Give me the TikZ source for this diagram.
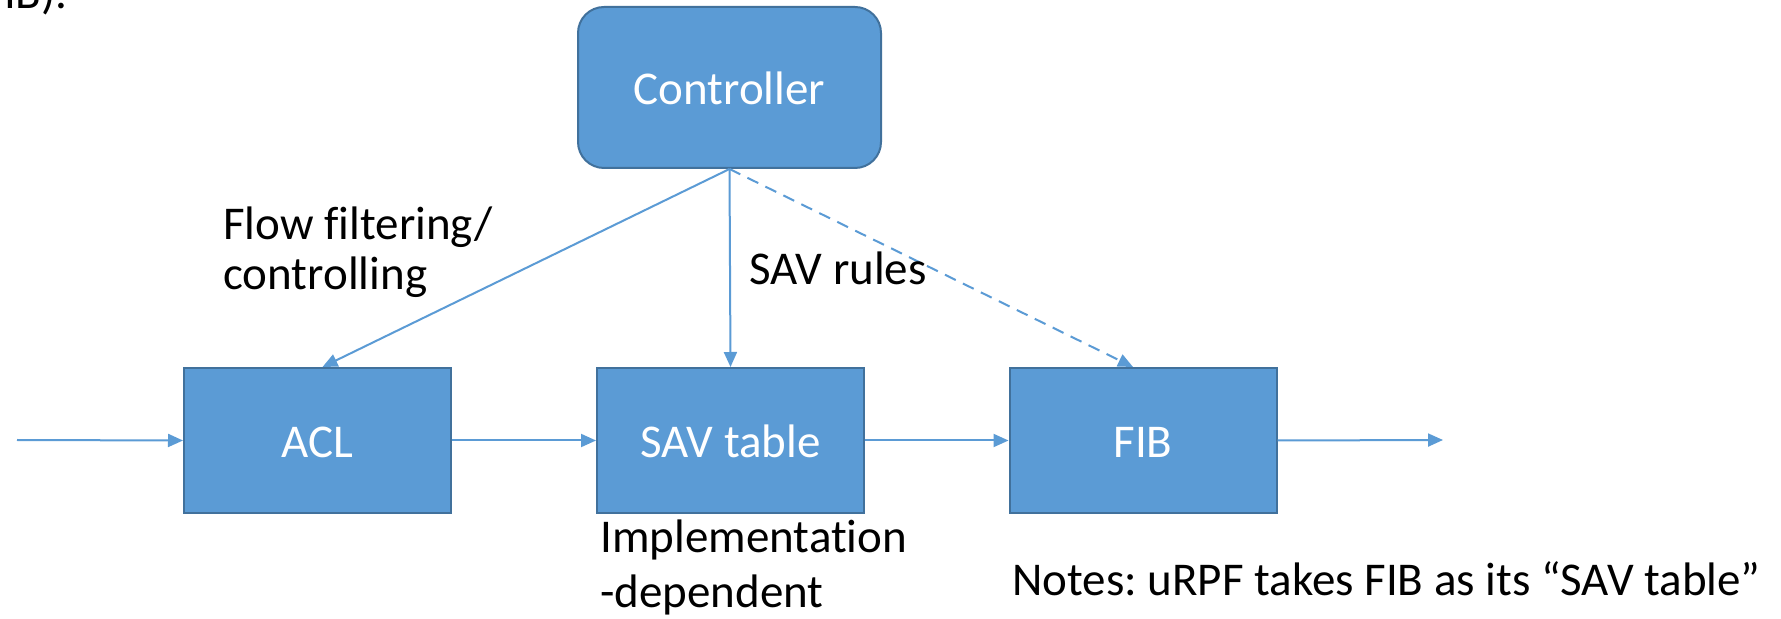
\documentclass[tikz,border=0pt]{standalone}
\usepackage{fontspec}
\setmainfont[Ligatures=NoCommon]{Carlito}
\usetikzlibrary{arrows.meta}
\definecolor{boxfill}{HTML}{5B9BD5}
\definecolor{boxedge}{HTML}{41719C}
\definecolor{linkcol}{HTML}{5B9BD5}
\tikzset{
  base/.style={font=\fontsize{23.5}{27}\selectfont},
  block/.style={base, draw=boxedge, fill=boxfill, line width=1pt, text=white,
    minimum width=133.5pt, minimum height=72.5pt, inner sep=0pt,
    text height=17pt, text depth=0pt},
  ctrlbox/.style={block, rounded corners=13pt, minimum width=151.5pt, minimum height=80.5pt},
  link/.style={draw=linkcol, line width=1pt, -{Triangle[length=7.5pt,width=6.5pt]}},
  dashlink/.style={link, dash pattern=on 6pt off 4pt},
  label/.style={base, text=black, inner sep=0pt, align=left}
}
\begin{document}
\frenchspacing
\begin{tikzpicture}[x=0.5pt,y=-0.5pt]
  \useasboundingbox (0,0) rectangle (1781,619);
  \clip (0,0) rectangle (1781,619);
  \fill[white] (0,0) rectangle (1781,619);

  % tail of a sentence above the figure
  \node[label, anchor=base east] (tail) at (68,9) {IB).};

  % blocks
  \node[ctrlbox] (ctrl) at (729.5,87.5) {Controller};
  \node[block] (acl) at (317.5,440.5) {ACL};
  \node[block] (sav) at (730.5,440.5) {SAV table};
  \node[block] (fib) at (1143,440.5) {FIB};

  % packet path
  \coordinate (in) at (17,440);
  \coordinate (out) at (1443,440);
  \draw[link] (in) -- (acl.west);
  \draw[link] (acl.east) -- (sav.west);
  \draw[link] (sav.east) -- (fib.west);
  \draw[link] (fib.east) -- (out);

  % control links
  \draw[link] (ctrl.south) -- ([xshift=2.5pt]acl.north);
  \draw[link] (ctrl.south) -- (sav.north);
  \draw[dashlink] (ctrl.south) -- ([xshift=-5pt]fib.north);

  % annotations
  \node[label, anchor=base west] (flow) at (223,240) {Flow filtering/};
  \node[label, anchor=base west] (flow2) at (223,290) {controlling};
  \node[label, anchor=base west] (rules) at (749,285) {SAV rules};
  \node[label, anchor=base west] (impl) at (600,552) {Implementation};
  \node[label, anchor=base west] (impl2) at (600,607) {-dependent};
  \node[label, anchor=base west] (notes) at (1012,595) {Notes: uRPF takes FIB as its “SAV table”};
\end{tikzpicture}
\end{document}
